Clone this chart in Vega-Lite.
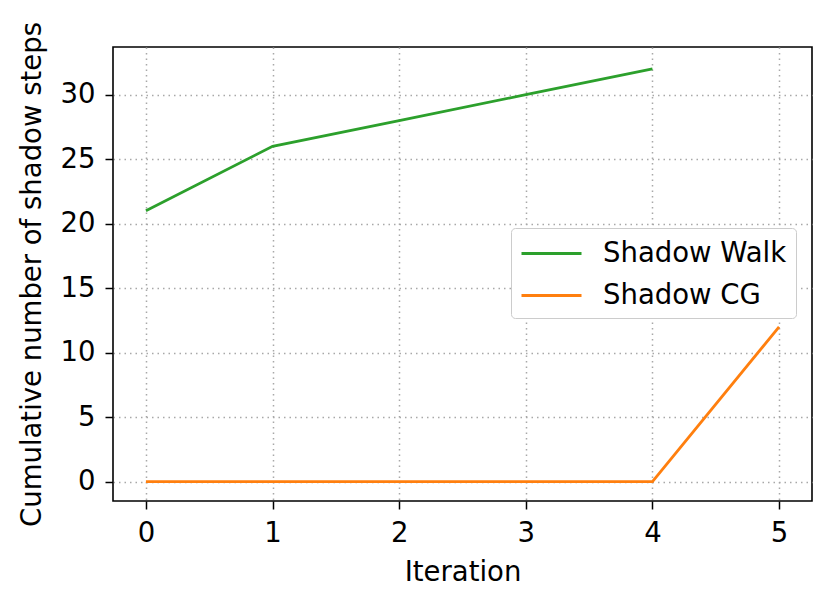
{
  "$schema": "https://vega.github.io/schema/vega-lite/v6.json",
  "width": 699,
  "height": 454,
  "autosize": {"type": "none"},
  "padding": {"left": 113, "top": 47, "right": 23, "bottom": 107},
  "background": "white",
  "config": {
    "font": "DejaVu Sans",
    "view": {"stroke": "black", "strokeWidth": 1.6},
    "axis": {
      "labelFontSize": 27.5,
      "titleFontSize": 27.5,
      "labelColor": "black",
      "titleColor": "black",
      "titleFontWeight": "normal",
      "labelFont": "DejaVu Sans",
      "titleFont": "DejaVu Sans",
      "tickColor": "black",
      "tickSize": 8,
      "tickWidth": 1.5,
      "domain": false,
      "grid": true,
      "gridColor": "#a8a8a8",
      "gridDash": [1.5, 4],
      "gridWidth": 1.5,
      "labelPadding": 10
    }
  },
  "data": {
    "values": [
      {"Iteration": 0, "steps": 21, "series": "Shadow Walk"},
      {"Iteration": 1, "steps": 26, "series": "Shadow Walk"},
      {"Iteration": 2, "steps": 28, "series": "Shadow Walk"},
      {"Iteration": 3, "steps": 30, "series": "Shadow Walk"},
      {"Iteration": 4, "steps": 32, "series": "Shadow Walk"},
      {"Iteration": 0, "steps": 0, "series": "Shadow CG"},
      {"Iteration": 1, "steps": 0, "series": "Shadow CG"},
      {"Iteration": 2, "steps": 0, "series": "Shadow CG"},
      {"Iteration": 3, "steps": 0, "series": "Shadow CG"},
      {"Iteration": 4, "steps": 0, "series": "Shadow CG"},
      {"Iteration": 5, "steps": 12, "series": "Shadow CG"}
    ]
  },
  "mark": {"type": "line", "strokeWidth": 2.8, "clip": true},
  "encoding": {
    "x": {
      "field": "Iteration",
      "type": "quantitative",
      "scale": {"domain": [-0.26, 5.26], "nice": false, "zero": false},
      "axis": {"values": [0, 1, 2, 3, 4, 5], "title": "Iteration", "titlePadding": 12}
    },
    "y": {
      "field": "steps",
      "type": "quantitative",
      "scale": {"domain": [-1.5, 33.7], "nice": false, "zero": false},
      "axis": {"values": [0, 5, 10, 15, 20, 25, 30], "title": "Cumulative number of shadow steps", "titlePadding": 14}
    },
    "color": {
      "field": "series",
      "type": "nominal",
      "sort": ["Shadow Walk", "Shadow CG"],
      "scale": {"domain": ["Shadow Walk", "Shadow CG"], "range": ["#2ca02c", "#ff7f0e"]},
      "legend": {
        "title": null,
        "orient": "none",
        "legendX": 398,
        "legendY": 181,
        "symbolType": "M-2,0H2",
        "symbolSize": 900,
        "symbolOffset": 15,
        "symbolStrokeWidth": 2.8,
        "labelFontSize": 27.5,
        "labelLimit": 400,
        "labelFont": "DejaVu Sans",
        "labelColor": "black",
        "labelOffset": 35,
        "rowPadding": 12,
        "padding": 9,
        "fillColor": "white",
        "strokeColor": "#cccccc",
        "cornerRadius": 4
      }
    }
  }
}
